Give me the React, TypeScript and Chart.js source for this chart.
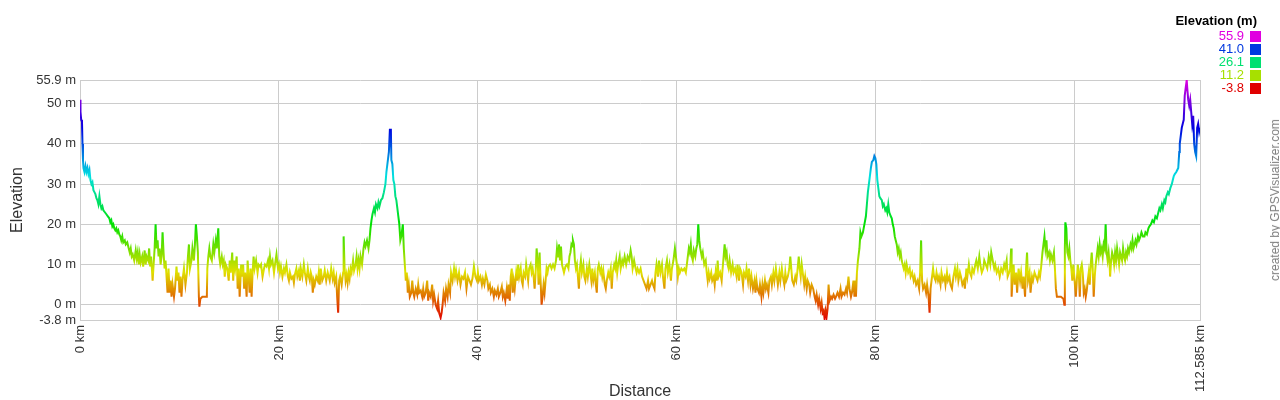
import { Chart, registerables } from 'chart.js';
import { useEffect, useRef } from 'react';

Chart.register(...registerables);

const FONT = "Arial, 'Liberation Sans', sans-serif";

// [distance km, elevation m], section by section
const section0to10: [number, number][] = [
	[0,51],[0.05,48],[0.12,46],[0.2,45.5],[0.25,40],[0.3,36],[0.35,34],[0.45,33],[0.55,34.5],[0.65,33],[0.75,34],[0.85,32.5],[0.95,33.5],
	[1.05,31],[1.15,30],[1.25,30.5],[1.35,28.5],[1.45,28],[1.55,27.5],[1.65,26.5],[1.75,26],[1.85,25],[1.95,27],[2.05,25],[2.15,24],[2.25,24.5],
	[2.35,23.5],[2.5,23],[2.65,22.5],[2.8,22],[2.95,21.5],[3.05,20.5],[3.15,21],[3.25,19.5],[3.35,20],[3.45,19],[3.55,18.5],[3.65,19],[3.75,18],
	[3.85,18.5],[3.95,17.5],[4.05,17],[4.15,16],[4.25,17],[4.35,15.5],[4.5,16],[4.6,15],[4.75,15.5],[4.9,14],[5.0,13],[5.1,14],[5.2,12],[5.3,12.5],
	[5.45,11],[5.6,13.5],[5.7,11.5],[5.8,13],[5.9,10],[6.0,12.5],[6.1,10.5],[6.25,12],[6.35,9.5],[6.5,13.5],[6.6,10],[6.7,12],[6.85,11],[6.95,14],
	[7.05,9.5],[7.15,12],[7.3,6],[7.4,10],[7.5,14],[7.6,20],[7.7,14],[7.8,16],[7.9,12],[8.0,14],[8.1,10],[8.2,12],[8.3,18],[8.4,13],[8.5,9],
	[8.6,11],[8.7,7],[8.8,3],[8.9,9],[9.0,3],[9.1,6],[9.2,2],[9.3,5],[9.45,2],[9.55,4],[9.7,9.5],[9.8,6],[9.9,8],
];

const section10to20: [number, number][] = [
	[10.0,3],[10.1,7],[10.2,2],[10.3,6],[10.45,9],[10.6,5],[10.75,8],[10.85,12],[10.95,15],[11.05,9],[11.2,11],[11.3,14],[11.45,11],[11.55,15],
	[11.65,20],[11.75,17],[11.85,13],[11.95,2],[12.0,-0.5],[12.1,1.5],[12.3,2],[12.55,2],[12.75,2],[12.8,9],[12.9,12],[13.0,14],[13.1,12],
	[13.25,11],[13.4,15],[13.5,13],[13.65,16],[13.75,14],[13.9,19],[14.0,12],[14.1,10],[14.25,12],[14.35,10],[14.45,11],[14.55,7],[14.65,10],
	[14.8,9],[14.95,6],[15.05,11],[15.15,8],[15.3,13],[15.4,6],[15.5,11],[15.6,9],[15.75,12],[15.85,4],[15.95,9],[16.05,2],[16.2,10],[16.3,7],
	[16.4,10],[16.5,4],[16.6,8],[16.75,2],[16.85,11],[16.95,7],[17.05,3],[17.15,9],[17.25,2],[17.35,8],[17.45,12],[17.55,9],[17.7,11],[17.85,8],
	[17.95,10],[18.1,9.5],[18.2,10],[18.35,7],[18.5,9],[18.6,10],[18.75,9.5],[18.9,11],[19.0,9],[19.1,12],[19.2,10],[19.35,11],[19.5,8],[19.6,10],
	[19.75,12.5],[19.9,9],
];

const section20to30: [number, number][] = [
	[20.0,10],[20.1,8],[20.2,9.5],[20.35,7],[20.5,9],[20.6,8],[20.75,10],[20.9,7],[21.0,6],[21.1,8],[21.25,6.5],[21.4,7],[21.5,5.5],[21.6,7.5],
	[21.75,9],[21.85,7],[22.0,8.5],[22.1,6],[22.2,9],[22.35,7],[22.5,10],[22.6,8],[22.75,6],[22.9,9],[23.0,7],[23.1,6],[23.2,8],[23.3,7],[23.4,3],
	[23.5,6],[23.6,5],[23.75,7],[23.9,6],[24.0,8],[24.1,5],[24.2,9],[24.35,6],[24.5,7],[24.6,8.5],[24.75,6],[24.9,8],[25.0,7],[25.1,6],[25.25,9],
	[25.4,6.5],[25.5,8],[25.6,5.5],[25.75,7],[25.85,2],[25.95,-2],[26.05,6],[26.15,7],[26.3,5],[26.45,8],[26.5,17],[26.6,9],[26.7,6],[26.8,7.5],
	[26.9,5.5],[27.0,8],[27.1,6.5],[27.2,9],[27.3,8],[27.45,11],[27.55,8.5],[27.7,10],[27.8,12],[27.9,9],[28.0,11],[28.1,9],[28.2,12],[28.35,10],
	[28.5,14],[28.6,15.5],[28.7,14.5],[28.85,16],[29.0,14],[29.1,16],[29.2,19],[29.3,21],[29.4,22.5],[29.55,24],[29.65,23],[29.75,25],[29.9,24],
];

const section30to40: [number, number][] = [
	[30.0,25.5],[30.1,24.5],[30.25,26],[30.4,26.5],[30.55,28],[30.7,30],[30.8,33],[30.95,36],[31.05,38],[31.15,43.5],[31.25,43.5],[31.3,36],
	[31.4,35],[31.5,31],[31.6,30],[31.7,27],[31.8,26],[31.9,24],[32.0,22],[32.1,20],[32.2,16],[32.3,17],[32.45,20],[32.55,14],[32.65,10],
	[32.75,6],[32.85,8],[32.95,3],[33.05,5],[33.15,2],[33.3,3],[33.4,6],[33.5,3],[33.6,2],[33.75,4],[33.9,2.5],[34.0,5],[34.1,3],[34.25,3.5],
	[34.4,2],[34.5,4],[34.6,2],[34.75,3],[34.9,6],[35.0,1],[35.1,3],[35.25,2],[35.4,5],[35.5,1],[35.6,2.5],[35.75,0],[35.9,-1],[36.0,1],
	[36.1,-2],[36.25,-3.2],[36.35,-2],[36.45,0],[36.55,3],[36.7,1],[36.8,4],[36.95,2],[37.05,5],[37.2,3],[37.3,8],[37.45,6],[37.6,9],[37.7,7],
	[37.8,8.5],[37.95,6],[38.1,8],[38.25,5],[38.4,7],[38.55,6.5],[38.7,8],[38.85,4],[39.0,7],[39.15,6],[39.3,5],[39.45,6.5],[39.6,9.5],[39.75,7],
	[39.9,6],
];

const section40to50: [number, number][] = [
	[40.0,8],[40.1,6],[40.25,7],[40.4,5],[40.5,6.5],[40.65,5],[40.8,7.5],[40.95,6],[41.05,4],[41.2,5],[41.3,3],[41.45,4],[41.6,2],[41.7,3.5],
	[41.85,2.5],[42.0,4],[42.1,2],[42.25,3],[42.4,4.5],[42.5,2],[42.6,3],[42.75,1],[42.9,4],[43.0,1.5],[43.1,5],[43.2,1],[43.3,7],[43.4,9],
	[43.5,3],[43.6,6],[43.7,4],[43.85,8],[43.95,6],[44.05,10],[44.15,7],[44.3,9],[44.4,6],[44.5,5],[44.6,8],[44.75,7],[44.85,10],[44.95,8],
	[45.05,6],[45.15,9],[45.3,10],[45.4,8],[45.5,9],[45.6,7],[45.7,4],[45.8,8],[45.9,14],[46.0,11],[46.1,5],[46.2,13],[46.3,6],[46.4,0],[46.5,2],
	[46.6,5],[46.7,3],[46.8,6],[46.9,9],[47.0,8],[47.1,9.5],[47.25,10],[47.4,9],[47.55,10],[47.7,9],[47.85,11],[47.95,14],[48.05,12],[48.15,15],
	[48.25,11],[48.35,14.5],[48.45,10],[48.55,9],[48.65,8],[48.8,9.5],[48.95,10],[49.1,9],[49.2,12],[49.3,13],[49.4,15],[49.5,14.5],[49.55,16],
	[49.65,15],[49.75,11],[49.85,9],[49.95,10],
];

const section50to60: [number, number][] = [
	[50.05,7],[50.15,4],[50.25,9],[50.35,11],[50.45,8],[50.6,10],[50.7,7],[50.8,6],[50.95,9],[51.05,7],[51.2,10],[51.3,8],[51.4,6],[51.5,9],
	[51.6,6],[51.75,8],[51.85,5],[51.95,3],[52.05,9],[52.15,10],[52.3,8],[52.4,9],[52.5,7],[52.6,8.5],[52.75,5],[52.85,4],[52.95,6],[53.1,8],
	[53.2,7],[53.35,9],[53.45,4],[53.55,8],[53.7,10],[53.8,9],[53.9,11],[54.0,8],[54.1,10],[54.25,12],[54.35,9],[54.5,11],[54.6,10],[54.75,12],
	[54.9,10],[55.05,12],[55.2,11],[55.35,13.5],[55.45,12],[55.55,9],[55.7,11],[55.85,9],[55.95,8],[56.05,9],[56.2,8],[56.35,9],[56.5,7],
	[56.65,6],[56.8,5],[56.95,4],[57.1,6],[57.2,4],[57.35,5],[57.5,6],[57.6,5],[57.75,4],[57.85,8],[57.95,10],[58.1,7],[58.2,11],[58.35,8],
	[58.5,10],[58.6,7],[58.75,4],[58.85,9],[59.0,11],[59.1,8],[59.25,10],[59.4,6],[59.5,9],[59.65,11],[59.8,14],[59.9,12],
];

const section60to70: [number, number][] = [
	[60.0,10],[60.1,7],[60.2,9],[60.3,8],[60.45,9],[60.6,8.5],[60.75,9],[60.9,8],[61.0,10],[61.1,12],[61.2,14],[61.3,13],[61.4,15],[61.5,12],
	[61.6,11],[61.7,13.5],[61.85,12],[61.95,14],[62.05,15],[62.15,20],[62.25,16],[62.35,14],[62.5,12],[62.6,13],[62.75,10],[62.9,11],[63.0,8],
	[63.1,6],[63.2,8],[63.3,6.5],[63.45,8],[63.55,6],[63.7,7],[63.8,5],[63.9,8],[64.0,6],[64.1,11],[64.2,7],[64.35,8],[64.5,6],[64.6,9],
	[64.7,12],[64.8,15],[64.9,12],[65.0,13],[65.1,10],[65.2,9],[65.3,11],[65.45,8],[65.6,10],[65.7,8],[65.85,9],[66.0,7],[66.1,10],[66.25,6],
	[66.35,9],[66.5,8],[66.65,5],[66.75,8],[66.9,7],[67.0,9],[67.15,6],[67.25,9],[67.4,5],[67.5,7],[67.65,4],[67.8,6],[67.9,3],[68.0,6],
	[68.1,4],[68.25,3],[68.35,5],[68.5,2],[68.6,5],[68.7,3],[68.85,6],[68.95,4],[69.05,5],[69.2,3],[69.3,6],[69.45,7],[69.55,5],[69.7,8],
	[69.8,6],[69.95,9],
];

const section70to80: [number, number][] = [
	[70.05,7],[70.15,5],[70.3,8],[70.4,6],[70.55,9],[70.65,7],[70.8,5],[70.9,8],[71.0,6],[71.15,7],[71.3,9],[71.4,12],[71.5,9],[71.6,6],
	[71.75,5],[71.9,7],[72.0,6],[72.1,8],[72.25,12],[72.35,9],[72.45,7],[72.55,10],[72.65,8],[72.8,5],[72.9,7],[73.05,4],[73.15,6],[73.3,5],
	[73.4,3],[73.55,5],[73.7,4],[73.85,2],[73.95,1],[74.05,2.5],[74.2,0],[74.3,1.5],[74.45,-1],[74.55,0.5],[74.65,-2],[74.75,-1.5],[74.85,-3.5],
	[74.95,-1.5],[75.05,-3],[75.15,-1],[75.25,5],[75.35,1],[75.5,2],[75.6,1.5],[75.75,2.5],[75.9,1.5],[76.0,2],[76.15,3],[76.3,2],[76.45,4],
	[76.55,2],[76.7,3],[76.85,2.5],[77.0,4],[77.1,3],[77.25,7],[77.35,4],[77.5,2],[77.6,3],[77.75,6],[77.85,2],[77.95,6],[78.0,2],[78.1,8],
	[78.2,11],[78.35,14],[78.45,18],[78.55,17],[78.7,18],[78.85,20],[79.0,22],[79.1,25],[79.2,28],[79.35,31],[79.5,34],[79.6,35.5],[79.75,36],
	[79.85,37],[79.95,36.5],
];

const section80to90: [number, number][] = [
	[80.05,35],[80.15,31],[80.25,29],[80.35,27],[80.45,26.5],[80.6,26],[80.7,24.5],[80.8,25],[80.95,23.5],[81.05,24],[81.15,23],[81.25,25],
	[81.35,23],[81.5,22],[81.6,21.5],[81.7,20],[81.8,19],[81.9,17],[82.0,16],[82.1,15],[82.2,13],[82.3,14],[82.4,12],[82.5,13],[82.6,11],
	[82.7,10],[82.8,9],[82.9,10],[83.0,8],[83.1,10],[83.25,8],[83.4,9],[83.5,7],[83.65,8],[83.8,6],[83.9,7],[84.05,5],[84.2,6],[84.35,4],
	[84.45,8],[84.55,16],[84.65,6],[84.75,4],[84.9,5],[85.05,3],[85.15,5],[85.3,2],[85.4,-2],[85.5,4],[85.6,6],[85.75,9],[85.85,7],[86.0,6],
	[86.1,8],[86.25,6],[86.35,7],[86.5,5],[86.6,8],[86.75,6],[86.9,7],[87.0,5],[87.15,8],[87.25,6],[87.4,7],[87.5,5],[87.65,4],[87.8,7],
	[87.95,9],[88.05,7],[88.2,9],[88.3,6],[88.45,8],[88.55,7],[88.7,5],[88.85,6],[88.95,4],[89.1,9],[89.2,7],[89.35,10],[89.45,8],[89.6,7],
	[89.7,9],[89.85,8],
];

const section90to100: [number, number][] = [
	[90.0,10],[90.1,11],[90.25,9],[90.4,12],[90.5,10],[90.65,8],[90.8,9],[90.9,11],[91.05,10],[91.2,9],[91.35,12],[91.5,10],[91.6,13],
	[91.75,11],[91.9,9],[92.0,10],[92.15,8],[92.3,9],[92.45,7],[92.6,9],[92.75,8],[92.9,10],[93.0,9],[93.15,11],[93.25,7],[93.4,8],[93.5,9],
	[93.6,14],[93.65,2],[93.75,7],[93.85,10],[93.95,5],[94.1,8],[94.2,3],[94.35,9],[94.5,6],[94.6,8],[94.75,4],[94.85,7],[95.0,2],[95.1,9],
	[95.2,13],[95.3,6],[95.45,8],[95.55,3],[95.7,7],[95.8,6],[95.95,8],[96.1,7],[96.25,6],[96.4,8],[96.5,7],[96.6,9],[96.75,13],[96.85,15],
	[96.95,17],[97.05,14],[97.15,16],[97.25,12],[97.4,13],[97.5,11],[97.6,12.5],[97.75,11],[97.9,13],[98.0,9],[98.1,4],[98.2,2],[98.4,2],
	[98.6,2],[98.85,1.5],[98.95,0],[99.0,14],[99.05,20.5],[99.15,19],[99.25,13],[99.35,12],[99.45,14],[99.55,11],[99.65,9],[99.75,6],
	[99.85,10],[99.95,7],
];

const section100toEnd: [number, number][] = [
	[100.1,2],[100.2,6],[100.3,10],[100.4,8],[100.5,2],[100.6,9],[100.7,10],[100.8,8],[100.9,3],[101.0,4],[101.1,2],[101.2,3.5],[101.3,6],
	[101.4,8],[101.5,5],[101.6,10],[101.7,13],[101.8,9],[101.9,2],[102.0,7],[102.1,10],[102.2,12],[102.3,14],[102.4,12],[102.5,15],[102.6,13],
	[102.7,14],[102.8,12],[102.9,15],[103.0,14],[103.1,20],[103.2,13],[103.3,11],[103.4,13],[103.5,10],[103.55,7],[103.65,11],[103.75,13],
	[103.85,12],[103.95,10],[104.05,13],[104.15,11],[104.25,14],[104.35,12],[104.45,10],[104.55,13],[104.65,12],[104.75,11],[104.85,14],
	[104.95,12],[105.05,11],[105.15,13],[105.25,12],[105.35,14],[105.45,13],[105.6,15],[105.7,14],[105.8,16],[105.9,14],[106.0,15],[106.1,16],
	[106.2,15],[106.35,17],[106.45,16],[106.6,17],[106.7,18],[106.85,17],[107.0,17],[107.1,18],[107.25,17.5],[107.4,19],[107.5,19.5],
	[107.65,20],[107.8,21],[107.95,20.5],[108.1,22],[108.25,21.5],[108.4,23],[108.5,24],[108.6,23.5],[108.75,25],[108.85,24],[109.0,26],
	[109.1,25.5],[109.2,27],[109.35,28],[109.45,27.5],[109.6,29],[109.75,30],[109.85,31],[109.95,32],[110.05,32.5],[110.2,33],[110.3,33.5],
	[110.4,34],[110.5,38],[110.55,40],[110.65,42],[110.75,44],[110.85,45],[110.95,46],[111.05,52],[111.15,54],[111.25,55.9],[111.3,54],
	[111.4,51],[111.5,49.5],[111.6,51],[111.7,48],[111.8,45],[111.9,47],[112.0,40],[112.1,38],[112.2,37],[112.3,44],[112.4,45],[112.5,43],
	[112.585,44],
];

const profile = [
	...section0to10, ...section10to20, ...section20to30, ...section30to40, ...section40to50,
	...section50to60, ...section60to70, ...section70to80, ...section80to90, ...section90to100, ...section100toEnd,
];

const yTicks = [-3.8, 0, 10, 20, 30, 40, 50, 55.9];
const xTicks = [0, 20, 40, 60, 80, 100, 112.585];
const legendValues = [55.9, 41.0, 26.1, 11.2, -3.8];
const ELEV_MIN = -3.8;
const ELEV_MAX = 55.9;

// red at the lowest point -> magenta at the highest
function hueFor(v: number) {
	return 300 * (v - ELEV_MIN) / (ELEV_MAX - ELEV_MIN);
}
function colorFor(v: number) {
	return `hsl(${hueFor(v)}, 100%, 44%)`;
}

function lineGradient(ctx: any) {
	const chart = ctx.chart;
	if (!chart.chartArea) return colorFor(10);
	const y = chart.scales.y;
	const g = chart.ctx.createLinearGradient(0, y.getPixelForValue(ELEV_MIN), 0, y.getPixelForValue(ELEV_MAX));
	for (let i = 0; i <= 20; i++) {
		g.addColorStop(i / 20, `hsl(${300 * i / 20}, 100%, 44%)`);
	}
	return g;
}

export default function App() {
	const canvas = useRef<HTMLCanvasElement | null>(null);

	useEffect(() => {
		if (!canvas.current) return;
		const chart = new Chart(canvas.current, {
			type: 'line',
			data: {
				datasets: [{
					label: 'Elevation',
					data: profile.map(([x, y]) => ({ x, y })),
					borderColor: lineGradient,
					borderWidth: 2,
					pointRadius: 0,
					tension: 0,
					fill: false,
				}],
			},
			options: {
				animation: false,
				responsive: false,
				layout: { padding: { top: 80, right: 80, left: 0, bottom: 0 } },
				plugins: { legend: { display: false }, tooltip: { enabled: false } },
				scales: {
					x: {
						type: 'linear',
						min: 0,
						max: 112.585,
						afterBuildTicks: (s: any) => { s.ticks = xTicks.map((value) => ({ value })); },
						afterFit: (s: any) => { s.height = 80; },
						grid: { color: '#cccccc', drawTicks: false },
						border: { color: '#cccccc' },
						ticks: {
							autoSkip: false,
							minRotation: 90,
							maxRotation: 90,
							padding: 5,
							color: '#333',
							font: { family: FONT, size: 13 },
							callback: (v: any) => `${v} km`,
						},
						title: {
							display: true,
							text: 'Distance',
							color: '#333',
							font: { family: FONT, size: 16, lineHeight: 1 },
							padding: { top: 0, bottom: 0 },
						},
					},
					y: {
						type: 'linear',
						min: ELEV_MIN,
						max: ELEV_MAX,
						afterBuildTicks: (s: any) => { s.ticks = yTicks.map((value) => ({ value })); },
						afterFit: (s: any) => { s.width = 80; },
						grid: { color: '#cccccc', drawTicks: false },
						border: { color: '#cccccc' },
						ticks: {
							autoSkip: false,
							padding: 4,
							color: '#333',
							font: { family: FONT, size: 13 },
							callback: (v: any) => `${v} m`,
						},
						title: {
							display: true,
							text: 'Elevation',
							color: '#333',
							font: { family: FONT, size: 16, lineHeight: 1.2 },
							padding: { top: 8, bottom: 0 },
						},
					},
				},
			},
		});
		return () => chart.destroy();
	}, []);

	return (
		<div style={{ position: 'fixed', left: 0, top: 0, width: 1280, height: 400, background: '#fff', fontFamily: FONT }}>
			<canvas ref={canvas} width={1280} height={400}></canvas>
			<div style={{ position: 'absolute', right: 23, top: 13, fontSize: 13, fontWeight: 'bold', color: '#000', lineHeight: '16px' }}>
				Elevation (m)
			</div>
			{legendValues.map((v, i) => (
				<div key={v} style={{ position: 'absolute', left: 1150, top: 30 + i * 13, width: 111, height: 13 }}>
					<span style={{ position: 'absolute', right: 17, top: -1, fontSize: 13, lineHeight: '13px', color: colorFor(v) }}>
						{v.toFixed(1)}
					</span>
					<span style={{ position: 'absolute', right: 0, top: 1, width: 11, height: 11, background: colorFor(v) }}></span>
				</div>
			))}
			<div style={{
				position: 'absolute', left: 1275, top: 200, transform: 'translate(-50%, -50%) rotate(-90deg)',
				whiteSpace: 'nowrap', fontSize: 12, color: '#808080',
			}}>
				created by GPSVisualizer.com
			</div>
		</div>
	);
}
